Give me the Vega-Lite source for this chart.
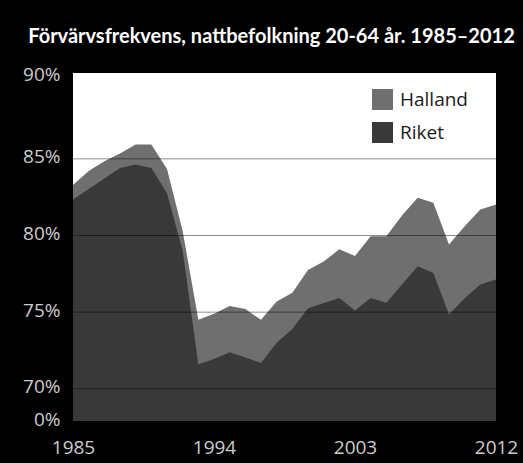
{
  "$schema": "https://vega.github.io/schema/vega-lite/v6.json",
  "width": 423,
  "height": 348,
  "autosize": {"type": "none"},
  "padding": {"left": 73, "top": 73, "right": 27, "bottom": 42},
  "background": "#000000",
  "config": {"view": {"stroke": null, "fill": "#ffffff"}},
  "title": {
    "text": "Förvärvsfrekvens, nattbefolkning 20-64 år. 1985–2012",
    "color": "#ffffff",
    "font": "Lato",
    "fontSize": 20,
    "fontWeight": "bold",
    "anchor": "middle",
    "frame": "group",
    "dx": -13,
    "offset": 2,
    "baseline": "alphabetic"
  },
  "datasets": {
    "series": [
      {"year": 1985, "region": "Halland", "value": 83.3},
      {"year": 1986, "region": "Halland", "value": 84.2},
      {"year": 1987, "region": "Halland", "value": 84.84},
      {"year": 1988, "region": "Halland", "value": 85.35},
      {"year": 1989, "region": "Halland", "value": 85.93},
      {"year": 1990, "region": "Halland", "value": 85.93},
      {"year": 1991, "region": "Halland", "value": 84.34},
      {"year": 1992, "region": "Halland", "value": 80.3},
      {"year": 1993, "region": "Halland", "value": 74.5},
      {"year": 1994, "region": "Halland", "value": 74.9},
      {"year": 1995, "region": "Halland", "value": 75.4},
      {"year": 1996, "region": "Halland", "value": 75.2},
      {"year": 1997, "region": "Halland", "value": 74.5},
      {"year": 1998, "region": "Halland", "value": 75.7},
      {"year": 1999, "region": "Halland", "value": 76.26},
      {"year": 2000, "region": "Halland", "value": 77.75},
      {"year": 2001, "region": "Halland", "value": 78.3},
      {"year": 2002, "region": "Halland", "value": 79.1},
      {"year": 2003, "region": "Halland", "value": 78.67},
      {"year": 2004, "region": "Halland", "value": 79.95},
      {"year": 2005, "region": "Halland", "value": 79.95},
      {"year": 2006, "region": "Halland", "value": 81.3},
      {"year": 2007, "region": "Halland", "value": 82.46},
      {"year": 2008, "region": "Halland", "value": 82.13},
      {"year": 2009, "region": "Halland", "value": 79.41},
      {"year": 2010, "region": "Halland", "value": 80.6},
      {"year": 2011, "region": "Halland", "value": 81.69},
      {"year": 2012, "region": "Halland", "value": 82.02},
      {"year": 1985, "region": "Riket", "value": 82.35},
      {"year": 1986, "region": "Riket", "value": 83.04},
      {"year": 1987, "region": "Riket", "value": 83.72},
      {"year": 1988, "region": "Riket", "value": 84.41},
      {"year": 1989, "region": "Riket", "value": 84.63},
      {"year": 1990, "region": "Riket", "value": 84.4},
      {"year": 1991, "region": "Riket", "value": 82.76},
      {"year": 1992, "region": "Riket", "value": 79.0},
      {"year": 1993, "region": "Riket", "value": 71.6},
      {"year": 1994, "region": "Riket", "value": 71.95},
      {"year": 1995, "region": "Riket", "value": 72.38},
      {"year": 1996, "region": "Riket", "value": 72.05},
      {"year": 1997, "region": "Riket", "value": 71.69},
      {"year": 1998, "region": "Riket", "value": 73.0},
      {"year": 1999, "region": "Riket", "value": 73.9},
      {"year": 2000, "region": "Riket", "value": 75.25},
      {"year": 2001, "region": "Riket", "value": 75.6},
      {"year": 2002, "region": "Riket", "value": 75.93},
      {"year": 2003, "region": "Riket", "value": 75.1},
      {"year": 2004, "region": "Riket", "value": 75.93},
      {"year": 2005, "region": "Riket", "value": 75.61},
      {"year": 2006, "region": "Riket", "value": 76.8},
      {"year": 2007, "region": "Riket", "value": 78.0},
      {"year": 2008, "region": "Riket", "value": 77.56},
      {"year": 2009, "region": "Riket", "value": 74.84},
      {"year": 2010, "region": "Riket", "value": 75.9},
      {"year": 2011, "region": "Riket", "value": 76.8},
      {"year": 2012, "region": "Riket", "value": 77.13}
    ],
    "grid": [{"v": 70}, {"v": 75}, {"v": 80}, {"v": 85}]
  },
  "layer": [
    {
      "data": {"name": "series"},
      "transform": [{"filter": "datum.region === 'Halland'"}],
      "mark": {"type": "area", "opacity": 1},
      "encoding": {
        "x": {
          "field": "year", "type": "quantitative",
          "scale": {"domain": [1985, 2012], "nice": false, "zero": false},
          "axis": {
            "values": [1985, 1994, 2003, 2012], "format": "d", "title": null,
            "grid": false, "ticks": false, "domain": false, "labelFlush": false,
            "labelPadding": 17, "labelFontSize": 19, "labelColor": "#cccccc",
            "labelFont": "Open Sans", "labelBaseline": "top"
          }
        },
        "y": {
          "field": "value", "type": "quantitative", "stack": null,
          "scale": {"domain": [67.9, 90.6], "nice": false, "zero": false},
          "axis": {
            "values": [67.9, 70, 75, 80, 85, 90.4],
            "labelExpr": "datum.value < 69 ? '0%' : format(round(datum.value), 'd') + '%'",
            "title": null, "grid": false, "ticks": false, "domain": false,
            "labelFlush": false, "labelOverlap": false, "labelPadding": 13,
            "labelFontSize": 19, "labelColor": "#cccccc", "labelFont": "Open Sans",
            "labelOffset": -2
          }
        },
        "color": {
          "field": "region", "type": "nominal",
          "scale": {"domain": ["Halland", "Riket"], "range": ["#6f6f6f", "#393939"]},
          "legend": {
            "orient": "none", "legendX": 299, "legendY": 16, "title": null,
            "symbolType": "square", "symbolSize": 441, "symbolStrokeWidth": 0,
            "symbolOpacity": 1, "labelFontSize": 19, "labelFont": "Open Sans",
            "labelColor": "#1a1a1a", "rowPadding": 12, "labelOffset": 7, "padding": 0
          }
        }
      }
    },
    {
      "data": {"name": "series"},
      "transform": [{"filter": "datum.region === 'Riket'"}],
      "mark": {"type": "area", "opacity": 1},
      "encoding": {
        "x": {"field": "year", "type": "quantitative"},
        "y": {"field": "value", "type": "quantitative", "stack": null},
        "color": {"field": "region", "type": "nominal"}
      }
    },
    {
      "data": {"name": "grid"},
      "mark": {"type": "rule", "color": "#000000", "opacity": 0.45, "strokeWidth": 1},
      "encoding": {
        "y": {"field": "v", "type": "quantitative"}
      }
    }
  ]
}
